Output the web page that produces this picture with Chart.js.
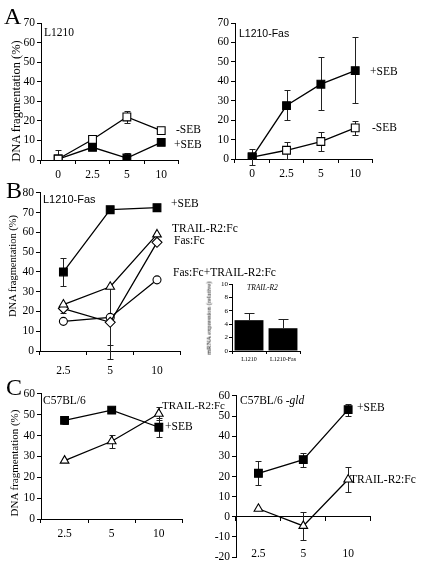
<!DOCTYPE html>
<html><head><meta charset="utf-8">
<script src="https://cdn.jsdelivr.net/npm/chart.js@4.4.1/dist/chart.umd.min.js"></script>
<style>
html,body{margin:0;padding:0;background:#fff;}
#root{position:relative;width:426px;height:567px;overflow:hidden;background:#fff;}
canvas{position:absolute;}
.t{position:absolute;white-space:nowrap;font-family:'Liberation Serif','Times New Roman',serif;color:#000;line-height:1;transform:translateY(-50%);}
.s{font-family:'Liberation Sans',Arial,sans-serif;}
.r{transform:translate(-50%,-50%) rotate(-90deg);}
</style></head><body><div id="root"></div>
<script>
// ---------- data ----------
const xA = ['0', '2.5', '5', '10'];
const xBC = ['2.5', '5', '10'];
const yTitle = 'DNA fragmentation (%)';

// Panel A, L1210
const aL_minusSEB = [0.5, 10.5, 22, 15];
const aL_minusSEB_up = [0, 1, 3, 1];
const aL_minusSEB_dn = [0, 1, 3, 1];
const aL_plusSEB = [0.5, 6.5, 1, 9];
const aL_plusSEB_up = [4.5, 1, 2.8, 1];
const aL_plusSEB_dn = [0, 1, 0, 1];

// Panel A, L1210-Fas
const aR_plusSEB = [1, 27.5, 38.5, 45.5];
const aR_plusSEB_up = [0, 8, 14, 17.5];
const aR_plusSEB_dn = [0, 7.5, 13.5, 16.5];
const aR_minusSEB = [1, 4.5, 9, 16];
const aR_minusSEB_up = [4, 4.5, 5, 3.5];
const aR_minusSEB_dn = [4, 4.5, 5, 3.5];

// Panel B, L1210-Fas
const b_plusSEB = [40, 71.5, 72.5];
const b_plusSEB_up = [7, 0.5, 1];
const b_plusSEB_dn = [7, 0.5, 1];
const b_trail = [23.5, 32.5, 59];
const b_trail_dn = [4.5, 36.5, 0];
const b_fas = [21.5, 14.5, 55];
const b_fas_dn = [0, 11.5, 0];
const b_both = [15, 17, 36];

// Panel B inset
const insetCats = ['L1210', 'L1210-Fas'];
const insetVals = [4.6, 3.4];
const insetErr = [1.1, 1.4];

// Panel C, C57BL/6
const c_plusSEB = [47.3, 52.2, 44];
const c_plusSEB_err = [1.5, 0.6, 4.6];
const c_trail = [28, 37.3, 50.5];
const c_trail_err = [0.6, 3.2, 3];

// Panel C, C57BL/6 -gld
const d_plusSEB = [21.6, 28.4, 53.2];
const d_plusSEB_err = [6, 3.5, 3];
const d_trail = [4, -4.5, 18.5];
const d_trail_err = [0, 7, 6.3];

// ---------- helpers ----------
const root = document.getElementById('root');
const SERIF = "'Liberation Serif','Times New Roman',serif";

const errPlugin = {
  id: 'err',
  beforeDatasetsDraw(chart, args, opts) { if (!opts.after) draw(chart, opts); },
  afterDatasetsDraw(chart, args, opts) { if (opts.after) draw(chart, opts); }
};
function draw(chart, opts) {
  const ctx = chart.ctx, ys = chart.scales.y, cw = opts.cap || 3;
  chart.data.datasets.forEach((ds, i) => {
    if (!ds.errUp && !ds.errDown) return;
    const meta = chart.getDatasetMeta(i);
    meta.data.forEach((el, j) => {
      const v = ds.data[j];
      const up = (ds.errUp || [])[j] || 0, dn = (ds.errDown || [])[j] || 0;
      const x = Math.round(el.x) + 0.5;
      ctx.save();
      ctx.strokeStyle = '#222'; ctx.lineWidth = 1;
      const y0 = ys.getPixelForValue(v);
      [[up, v + up], [dn, v - dn]].forEach(([e, val]) => {
        if (e <= 0) return;
        const yy = Math.round(ys.getPixelForValue(val)) + 0.5;
        ctx.beginPath(); ctx.moveTo(x, y0); ctx.lineTo(x, yy);
        ctx.moveTo(x - cw, yy); ctx.lineTo(x + cw, yy); ctx.stroke();
      });
      ctx.restore();
    });
  });
}

function lineDs(data, style, filled, up, dn, r) {
  return {
    data, borderColor: '#000', borderWidth: 1.3, tension: 0,
    pointStyle: style, pointRadius: r, pointBorderColor: '#000', pointBorderWidth: 1.1,
    pointBackgroundColor: filled ? '#000' : '#fff',
    errUp: up, errDown: dn
  };
}

function mk(area, cfg) {
  const left = area.L - area.yw, top = area.T - area.pt;
  const w = area.R + area.pr - left, h = area.B + area.xh + area.pb - top;
  const c = document.createElement('canvas');
  c.width = w; c.height = h;
  c.style.left = left + 'px'; c.style.top = top + 'px';
  c.style.width = w + 'px'; c.style.height = h + 'px';
  root.appendChild(c);
  cfg.options = cfg.options || {};
  cfg.options.responsive = false;
  cfg.options.animation = false;
  cfg.options.devicePixelRatio = 1;
  cfg.options.layout = { padding: { left: 0, top: area.pt, right: area.pr, bottom: area.pb } };
  cfg.plugins = [errPlugin];
  new Chart(c, cfg);
}

function scales(o) {
  const fs = o.fs || 11.5;
  const x = {
    type: 'category', offset: true,
    border: { display: true, color: '#000', width: 1 },
    grid: { display: true, drawOnChartArea: false, drawTicks: true, tickLength: o.xtl || 4, offset: true, color: '#000' },
    ticks: { color: '#000', font: { family: SERIF, size: fs }, padding: o.xpad || 4, maxRotation: 0, autoSkip: false },
    afterFit: s => { s.height = o.xh; }
  };
  if (o.xpos) { x.position = o.xpos; delete x.afterFit; }
  const y = {
    min: o.min, max: o.max,
    border: { display: true, color: '#000', width: 1 },
    grid: { display: true, drawOnChartArea: false, drawTicks: true, tickLength: o.ytl || 4, color: '#000' },
    ticks: { color: '#000', stepSize: o.step, font: { family: SERIF, size: fs }, padding: o.ypad || 2 },
    afterFit: s => { s.width = o.yw; }
  };
  return { x, y };
}

function base(opts) {
  return { plugins: { legend: { display: false }, tooltip: { enabled: false }, err: { cap: opts.cap || 3, after: !!opts.after } } };
}

function T(text, x, y, size, cls, extra) {
  const d = document.createElement('div');
  d.className = 't' + (cls ? ' ' + cls : '');
  d.innerHTML = text;
  d.style.left = x + 'px'; d.style.top = y + 'px'; d.style.fontSize = size + 'px';
  if (extra) Object.assign(d.style, extra);
  root.appendChild(d);
}

// ---------- Panel A left ----------
{
  const area = { L: 41, R: 181, T: 23, B: 160, yw: 30, xh: 24, pt: 10, pr: 4, pb: 0 };
  const o = base({ cap: 3 });
  o.scales = scales({ min: 0, max: 70, step: 10, yw: area.yw, xh: area.xh });
  mk(area, { type: 'line', data: { labels: xA, datasets: [
    lineDs(aL_minusSEB, 'rect', false, aL_minusSEB_up, aL_minusSEB_dn, 5.5),
    lineDs(aL_plusSEB, 'rect', true, aL_plusSEB_up, aL_plusSEB_dn, 5.5)
  ] }, options: o });
}
// ---------- Panel A right ----------
{
  const area = { L: 235, R: 375, T: 23, B: 159, yw: 30, xh: 24, pt: 10, pr: 4, pb: 0 };
  const o = base({ cap: 3 });
  o.scales = scales({ min: 0, max: 70, step: 10, yw: area.yw, xh: area.xh });
  mk(area, { type: 'line', data: { labels: xA, datasets: [
    lineDs(aR_plusSEB, 'rect', true, aR_plusSEB_up, aR_plusSEB_dn, 5.5),
    lineDs(aR_minusSEB, 'rect', false, aR_minusSEB_up, aR_minusSEB_dn, 5.5)
  ] }, options: o });
}
// ---------- Panel B ----------
{
  const area = { L: 40, R: 184, T: 187.5, B: 351, yw: 30, xh: 28, pt: 4, pr: 3, pb: 0 };
  const o = base({ cap: 3 });
  o.scales = scales({ min: 0, max: 80, step: 10, yw: area.yw, xh: area.xh, xpad: 9 });
  mk(area, { type: 'line', data: { labels: xBC, datasets: [
    lineDs(b_plusSEB, 'rect', true, b_plusSEB_up, b_plusSEB_dn, 5.5),
    lineDs(b_trail, 'triangle', false, null, b_trail_dn, 5),
    lineDs(b_fas, 'rectRot', false, null, b_fas_dn, 5),
    lineDs(b_both, 'circle', false, null, null, 4)
  ] }, options: o });
}
// ---------- Panel B inset ----------
{
  const area = { L: 232, R: 300, T: 284, B: 351, yw: 12, xh: 14, pt: 6, pr: 4, pb: 0 };
  const o = base({ cap: 5, after: true });
  o.scales = scales({ min: 0, max: 10, step: 2, yw: area.yw, xh: area.xh, fs: 7, xtl: 3, ytl: 3, xpad: 2, ypad: 1 });
  o.scales.x.ticks.font.size = 6;
  mk(area, { type: 'bar', data: { labels: insetCats, datasets: [{
    data: insetVals, backgroundColor: '#000', borderWidth: 0,
    barPercentage: 0.85, categoryPercentage: 1, errUp: insetErr
  }] }, options: o });
}
// ---------- Panel C left ----------
{
  const area = { L: 41, R: 185, T: 393, B: 519, yw: 30, xh: 22, pt: 8, pr: 4, pb: 0 };
  const o = base({ cap: 3 });
  o.scales = scales({ min: 0, max: 60, step: 10, yw: area.yw, xh: area.xh });
  mk(area, { type: 'line', data: { labels: xBC, datasets: [
    lineDs(c_plusSEB, 'rect', true, c_plusSEB_err, c_plusSEB_err, 5.5),
    lineDs(c_trail, 'triangle', false, c_trail_err, c_trail_err, 5)
  ] }, options: o });
}
// ---------- Panel C right ----------
{
  const area = { L: 236, R: 377, T: 395, B: 560, yw: 28, xh: 0, pt: 8, pr: 4, pb: 6 };
  const o = base({ cap: 3 });
  o.scales = scales({ min: -20, max: 60, step: 10, yw: area.yw, xh: 0, xpos: { y: 0 }, xpad: 26 });
  mk(area, { type: 'line', data: { labels: xBC, datasets: [
    lineDs(d_plusSEB, 'rect', true, d_plusSEB_err, d_plusSEB_err, 5.5),
    lineDs(d_trail, 'triangle', false, d_trail_err, d_trail_err, 5)
  ] }, options: o });
}

// ---------- text ----------
T('A', 4, 16, 24);
T('B', 6, 190, 24);
T('C', 6, 387, 24);
T(yTitle, 16, 101, 12.5, 'r');
T(yTitle, 13, 266, 10.5, 'r');
T(yTitle, 14, 463, 11, 'r');

T('L1210', 44, 33, 11.5);
T('-SEB', 176, 129.5, 11.5);
T('+SEB', 174, 144.5, 11.5);

T('L1210-Fas', 239, 33, 10.5, 's');
T('+SEB', 370, 72, 11.5);
T('-SEB', 372, 128, 11.5);

T('L1210-Fas', 43, 199, 11, 's');
T('+SEB', 171, 204, 11.5);
T('TRAIL-R2:Fc', 172, 229, 11.5);
T('Fas:Fc', 174, 241, 11.5);
T('Fas:Fc+TRAIL-R2:Fc', 173, 273, 11.5);
T('TRAIL-R2', 247, 288, 7.5, '', { fontStyle: 'italic' });
T('mRNA expression (relative)', 209, 318, 6.5, 'r');

T('C57BL/6', 43, 401, 11.5);
T('TRAIL-R2:Fc', 162, 405, 11);
T('+SEB', 165, 427, 11.5);

T('C57BL/6 -<i>gld</i>', 240, 401, 11.5);
T('+SEB', 357, 408, 11.5);
T('TRAIL-R2:Fc', 350, 480, 11.5);
</script></body></html>
